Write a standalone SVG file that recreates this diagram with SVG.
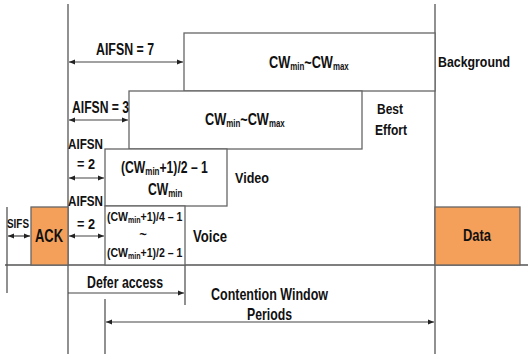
<svg xmlns="http://www.w3.org/2000/svg" width="528" height="354" viewBox="0 0 528 354">
<defs>
<style>
.ln{stroke:#555;stroke-width:1.3;fill:none}
.bx{stroke:#666;stroke-width:1.3;fill:#fff}
.or{stroke:#666;stroke-width:1.3;fill:#F5A05A}
.ar{stroke:#444;stroke-width:1.2;fill:none;marker-end:url(#ah);}
.ar2{stroke:#444;stroke-width:1.2;fill:none;marker-end:url(#ah);marker-start:url(#ahs)}
text{font-family:"Liberation Sans",Arial,sans-serif;font-weight:bold;fill:#111}
.sb{font-size:10.5px}
.sv{font-size:9px}
</style>
<marker id="ah" viewBox="0 0 6 6" refX="6" refY="3" markerWidth="6" markerHeight="6" markerUnits="userSpaceOnUse" orient="auto"><path d="M0,0.5 L6,3 L0,5.5 Z" fill="#222"/></marker>
<marker id="ahs" viewBox="0 0 6 6" refX="0" refY="3" markerWidth="6" markerHeight="6" markerUnits="userSpaceOnUse" orient="auto"><path d="M6,0.5 L0,3 L6,5.5 Z" fill="#222"/></marker>
</defs>
<rect width="528" height="354" fill="#fff"/>
<g id="connectors">
<line class="ln" x1="68" y1="4" x2="68" y2="354"/>
<line class="ln" x1="435" y1="4" x2="435" y2="354"/>
<line class="ln" x1="7" y1="207" x2="7" y2="293"/>
<line class="ln" x1="185" y1="265" x2="185" y2="305"/>
<line class="ln" x1="105" y1="299" x2="105" y2="354"/>
<line class="ln" x1="5" y1="265" x2="528" y2="265"/>
<line class="ar2" x1="69" y1="62" x2="183" y2="62"/>
<line class="ar2" x1="69" y1="120" x2="128" y2="120"/>
<line class="ar2" x1="69" y1="178" x2="104" y2="178"/>
<line class="ar2" x1="69" y1="236" x2="104" y2="236"/>
<line class="ar2" x1="8" y1="236" x2="30" y2="236"/>
<line class="ar" x1="68" y1="293" x2="184" y2="293"/>
<line class="ar2" x1="106" y1="322" x2="434" y2="322"/>
</g>
<g id="background">
<rect class="bx" x="184" y="33" width="251" height="58"/>
<text transform="translate(269,68) scale(0.75,1)" font-size="17">CW<tspan class="sb" dy="2">min</tspan><tspan dy="-2">~CW</tspan><tspan class="sb" dy="2">max</tspan></text>
<text x="438" y="67" font-size="15" textLength="72" lengthAdjust="spacingAndGlyphs">Background</text>
</g>
<g id="best-effort">
<rect class="bx" x="129" y="91" width="233" height="58"/>
<text transform="translate(205,125) scale(0.75,1)" font-size="17">CW<tspan class="sb" dy="2">min</tspan><tspan dy="-2">~CW</tspan><tspan class="sb" dy="2">max</tspan></text>
<text x="377" y="114" font-size="15" textLength="26" lengthAdjust="spacingAndGlyphs">Best</text>
<text x="375" y="135" font-size="15" textLength="32" lengthAdjust="spacingAndGlyphs">Effort</text>
</g>
<g id="video">
<rect class="bx" x="105" y="149" width="122" height="57"/>
<text transform="translate(121,173) scale(0.76,1)" font-size="16">(CW<tspan class="sb" dy="2">min</tspan><tspan dy="-2">+1)/2 – 1</tspan></text>
<text transform="translate(148,195) scale(0.76,1)" font-size="16">CW<tspan class="sb" dy="2">min</tspan></text>
<text x="235" y="183" font-size="15" textLength="34" lengthAdjust="spacingAndGlyphs">Video</text>
</g>
<g id="voice">
<rect class="bx" x="105" y="206" width="80" height="59"/>
<text transform="translate(107,221) scale(0.78,1)" font-size="13.5">(CW<tspan class="sv" dy="2">min</tspan><tspan dy="-2">+1)/4 – 1</tspan></text>
<text x="143" y="239" font-size="13" text-anchor="middle">~</text>
<text transform="translate(107,257) scale(0.78,1)" font-size="13.5">(CW<tspan class="sv" dy="2">min</tspan><tspan dy="-2">+1)/2 – 1</tspan></text>
<text x="193" y="242" font-size="17" textLength="34" lengthAdjust="spacingAndGlyphs">Voice</text>
</g>
<g id="ack">
<rect class="or" x="31" y="207" width="37" height="58"/>
<text x="35" y="242" font-size="19" textLength="28" lengthAdjust="spacingAndGlyphs">ACK</text>
</g>
<g id="data">
<rect class="or" x="435" y="207" width="85" height="58"/>
<text x="463" y="241" font-size="17" textLength="28" lengthAdjust="spacingAndGlyphs">Data</text>
</g>
<g id="labels">
<text x="96" y="55" font-size="16" textLength="58" lengthAdjust="spacingAndGlyphs">AIFSN = 7</text>
<text x="72" y="113" font-size="16" textLength="57" lengthAdjust="spacingAndGlyphs">AIFSN = 3</text>
<text x="68" y="149" font-size="15" textLength="35" lengthAdjust="spacingAndGlyphs">AIFSN</text>
<text x="77" y="169" font-size="15" textLength="18" lengthAdjust="spacingAndGlyphs">= 2</text>
<text x="68" y="206" font-size="15" textLength="35" lengthAdjust="spacingAndGlyphs">AIFSN</text>
<text x="77" y="229" font-size="15" textLength="18" lengthAdjust="spacingAndGlyphs">= 2</text>
<text x="7" y="228" font-size="13" textLength="22" lengthAdjust="spacingAndGlyphs">SIFS</text>
<text x="87" y="288" font-size="17" textLength="76" lengthAdjust="spacingAndGlyphs">Defer access</text>
<text x="211" y="300" font-size="17" textLength="117" lengthAdjust="spacingAndGlyphs">Contention Window</text>
<text x="247" y="320" font-size="17" textLength="45" lengthAdjust="spacingAndGlyphs">Periods</text>
</g>
</svg>
